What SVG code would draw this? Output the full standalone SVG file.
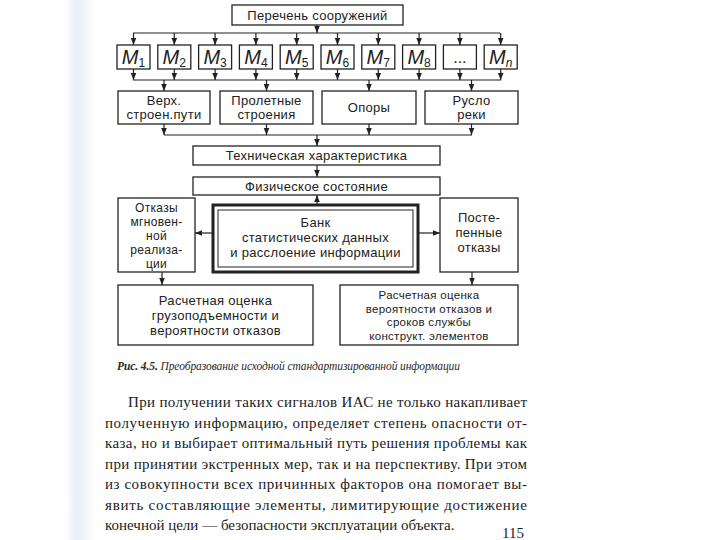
<svg xmlns="http://www.w3.org/2000/svg" width="720" height="540" viewBox="0 0 720 540">
<defs>
<linearGradient id="edge" x1="0" y1="0" x2="1" y2="0">
<stop offset="0" stop-color="#ffffff"/>
<stop offset="0.35" stop-color="#e6eef7"/>
<stop offset="1" stop-color="#ffffff"/>
</linearGradient>
<marker id="ah" viewBox="0 0 10 10" refX="10" refY="5" markerWidth="7" markerHeight="7" markerUnits="userSpaceOnUse" orient="auto">
<path d="M0,1 L10,5 L0,9 Z" fill="#222"/>
</marker>
<style>
.box{fill:#fff;stroke:#222;stroke-width:1.3}
.ln{fill:none;stroke:#222;stroke-width:1.2}
.ar{fill:none;stroke:#222;stroke-width:1.2;marker-end:url(#ah)}
.t{font-family:"Liberation Sans",Arial,sans-serif;font-size:13px;fill:#222;text-anchor:middle;letter-spacing:0.3px}
.s{font-size:12px}
.xs{font-size:11.5px}
.m{font-family:"Liberation Sans",Arial,sans-serif;font-size:20px;font-style:italic;fill:#222;text-anchor:middle}
.sub{font-size:12px;font-style:normal}
.cap{font-family:"Liberation Serif","Times New Roman",serif;font-size:11.5px;font-style:italic;fill:#2a2a2a}
.p{font-family:"Liberation Serif","Times New Roman",serif;font-size:15px;fill:#222}
</style>
</defs>
<rect width="720" height="540" fill="#fff"/>
<rect x="66" y="0" width="30" height="540" fill="url(#edge)"/>

<g id="connectors">
<line class="ar" x1="317" y1="25" x2="317" y2="33"/>
<line class="ln" x1="133" y1="33" x2="500" y2="33"/>
<line class="ar" x1="133.5" y1="33" x2="133.5" y2="45"/>
<line class="ar" x1="174.3" y1="33" x2="174.3" y2="45"/>
<line class="ar" x1="215.1" y1="33" x2="215.1" y2="45"/>
<line class="ar" x1="255.9" y1="33" x2="255.9" y2="45"/>
<line class="ar" x1="296.7" y1="33" x2="296.7" y2="45"/>
<line class="ar" x1="337.5" y1="33" x2="337.5" y2="45"/>
<line class="ar" x1="378.3" y1="33" x2="378.3" y2="45"/>
<line class="ar" x1="419.1" y1="33" x2="419.1" y2="45"/>
<line class="ar" x1="459.9" y1="33" x2="459.9" y2="45"/>
<line class="ar" x1="500.7" y1="33" x2="500.7" y2="45"/>
<line class="ar" x1="133.5" y1="69" x2="133.5" y2="80"/>
<line class="ar" x1="174.3" y1="69" x2="174.3" y2="80"/>
<line class="ar" x1="215.1" y1="69" x2="215.1" y2="80"/>
<line class="ar" x1="255.9" y1="69" x2="255.9" y2="80"/>
<line class="ar" x1="296.7" y1="69" x2="296.7" y2="80"/>
<line class="ar" x1="337.5" y1="69" x2="337.5" y2="80"/>
<line class="ar" x1="378.3" y1="69" x2="378.3" y2="80"/>
<line class="ar" x1="419.1" y1="69" x2="419.1" y2="80"/>
<line class="ar" x1="459.9" y1="69" x2="459.9" y2="80"/>
<line class="ar" x1="500.7" y1="69" x2="500.7" y2="80"/>
<line class="ln" x1="133" y1="80" x2="501" y2="80"/>
<line class="ar" x1="164" y1="80" x2="164" y2="91"/>
<line class="ar" x1="266.5" y1="80" x2="266.5" y2="91"/>
<line class="ar" x1="369" y1="80" x2="369" y2="91"/>
<line class="ar" x1="471.5" y1="80" x2="471.5" y2="91"/>
<line class="ar" x1="164" y1="124" x2="164" y2="135"/>
<line class="ar" x1="266.5" y1="124" x2="266.5" y2="135"/>
<line class="ar" x1="369" y1="124" x2="369" y2="135"/>
<line class="ar" x1="471.5" y1="124" x2="471.5" y2="135"/>
<line class="ln" x1="164" y1="135" x2="472" y2="135"/>
<line class="ar" x1="317" y1="135" x2="317" y2="146"/>
<line class="ar" x1="317" y1="165" x2="317" y2="177"/>
<line class="ar" x1="317" y1="205" x2="317" y2="195"/>
<line class="ar" x1="213" y1="233" x2="195" y2="233"/>
<line class="ar" x1="418" y1="233" x2="440" y2="233"/>
<line class="ar" x1="162" y1="272" x2="162" y2="285"/>
<line class="ar" x1="472" y1="272" x2="472" y2="285"/>
</g>

<g id="n_list"><rect class="box" x="232" y="5" width="171" height="20"/><text class="t" x="317.5" y="19.5">Перечень сооружений</text></g>

<g id="n_m1"><rect class="box" x="117" y="45" width="33" height="24"/><text class="m" x="133.5" y="64">M<tspan class="sub" dy="3">1</tspan></text></g>
<g id="n_m2"><rect class="box" x="157.8" y="45" width="33" height="24"/><text class="m" x="174.3" y="64">M<tspan class="sub" dy="3">2</tspan></text></g>
<g id="n_m3"><rect class="box" x="198.6" y="45" width="33" height="24"/><text class="m" x="215.1" y="64">M<tspan class="sub" dy="3">3</tspan></text></g>
<g id="n_m4"><rect class="box" x="239.4" y="45" width="33" height="24"/><text class="m" x="255.9" y="64">M<tspan class="sub" dy="3">4</tspan></text></g>
<g id="n_m5"><rect class="box" x="280.2" y="45" width="33" height="24"/><text class="m" x="296.7" y="64">M<tspan class="sub" dy="3">5</tspan></text></g>
<g id="n_m6"><rect class="box" x="321" y="45" width="33" height="24"/><text class="m" x="337.5" y="64">M<tspan class="sub" dy="3">6</tspan></text></g>
<g id="n_m7"><rect class="box" x="361.8" y="45" width="33" height="24"/><text class="m" x="378.3" y="64">M<tspan class="sub" dy="3">7</tspan></text></g>
<g id="n_m8"><rect class="box" x="402.6" y="45" width="33" height="24"/><text class="m" x="419.1" y="64">M<tspan class="sub" dy="3">8</tspan></text></g>
<g id="n_dots"><rect class="box" x="443.4" y="45" width="33" height="24"/><text class="m" x="459.9" y="63" style="font-style:normal;font-size:16px">...</text></g>
<g id="n_mn"><rect class="box" x="484.2" y="45" width="33" height="24"/><text class="m" x="500.7" y="64">M<tspan class="sub" dy="3" style="font-style:italic">n</tspan></text></g>

<g id="n_verh"><rect class="box" x="118" y="91" width="92" height="33"/><text class="t" x="164" y="105">Верх.</text><text class="t" x="164" y="119">строен.пути</text></g>
<g id="n_prol"><rect class="box" x="220" y="91" width="93" height="33"/><text class="t" x="266.5" y="105">Пролетные</text><text class="t" x="266.5" y="119">строения</text></g>
<g id="n_opory"><rect class="box" x="322" y="91" width="94" height="33"/><text class="t" x="369" y="112">Опоры</text></g>
<g id="n_ruslo"><rect class="box" x="425" y="91" width="93" height="33"/><text class="t" x="471.5" y="105">Русло</text><text class="t" x="471.5" y="119">реки</text></g>

<g id="n_tech"><rect class="box" x="193" y="146" width="247" height="19"/><text class="t" x="316.5" y="160">Техническая характеристика</text></g>
<g id="n_phys"><rect class="box" x="193" y="177" width="247" height="18"/><text class="t" x="316.5" y="190.5">Физическое состояние</text></g>

<g id="n_bank"><rect x="213" y="205" width="205" height="67" fill="#fff" stroke="#222" stroke-width="3"/><rect x="218" y="210" width="195" height="57" fill="none" stroke="#222" stroke-width="1"/>
<text class="t" x="315.5" y="227">Банк</text><text class="t" x="315.5" y="242">статистических данных</text><text class="t" x="315.5" y="257">и расслоение информации</text></g>

<g id="n_inst"><rect class="box" x="118" y="198" width="77" height="74"/>
<text class="t s" x="156.5" y="212">Отказы</text><text class="t s" x="156.5" y="226">мгновен-</text><text class="t s" x="156.5" y="240">ной</text><text class="t s" x="156.5" y="254">реализа-</text><text class="t s" x="156.5" y="268">ции</text></g>
<g id="n_grad"><rect class="box" x="440" y="198" width="78" height="74"/>
<text class="t" x="479" y="222">Посте-</text><text class="t" x="479" y="237">пенные</text><text class="t" x="479" y="252">отказы</text></g>

<g id="n_calc1"><rect class="box" x="118" y="285" width="195" height="60"/>
<text class="t" x="215.5" y="305">Расчетная оценка</text><text class="t" x="215.5" y="320">грузоподъемности и</text><text class="t" x="215.5" y="335">вероятности отказов</text></g>
<g id="n_calc2"><rect class="box" x="340" y="285" width="178" height="60"/>
<text class="t xs" x="429" y="299">Расчетная оценка</text><text class="t xs" x="429" y="312.5">вероятности отказов и</text><text class="t xs" x="429" y="326">сроков службы</text><text class="t xs" x="429" y="339.5">конструкт. элементов</text></g>

<text class="cap" x="117" y="370" textLength="343" lengthAdjust="spacing"><tspan font-weight="bold">Рис. 4.5.</tspan> Преобразование исходной стандартизированной информации</text>

<g id="paragraph">
<text class="p" x="128" y="407" textLength="399" lengthAdjust="spacing">При получении таких сигналов ИАС не только накапливает</text>
<text class="p" x="105" y="428" textLength="422" lengthAdjust="spacing">полученную информацию, определяет степень опасности от-</text>
<text class="p" x="105" y="448" textLength="422" lengthAdjust="spacing">каза, но и выбирает оптимальный путь решения проблемы как</text>
<text class="p" x="105" y="469" textLength="422" lengthAdjust="spacing">при принятии экстренных мер, так и на перспективу. При этом</text>
<text class="p" x="105" y="489" textLength="422" lengthAdjust="spacing">из совокупности всех причинных факторов она помогает вы-</text>
<text class="p" x="105" y="510" textLength="422" lengthAdjust="spacing">явить составляющие элементы, лимитирующие достижение</text>
<text class="p" x="105" y="530">конечной цели — безопасности эксплуатации объекта.</text>
<text class="p" x="502" y="538" font-size="11">115</text>
</g>
</svg>
